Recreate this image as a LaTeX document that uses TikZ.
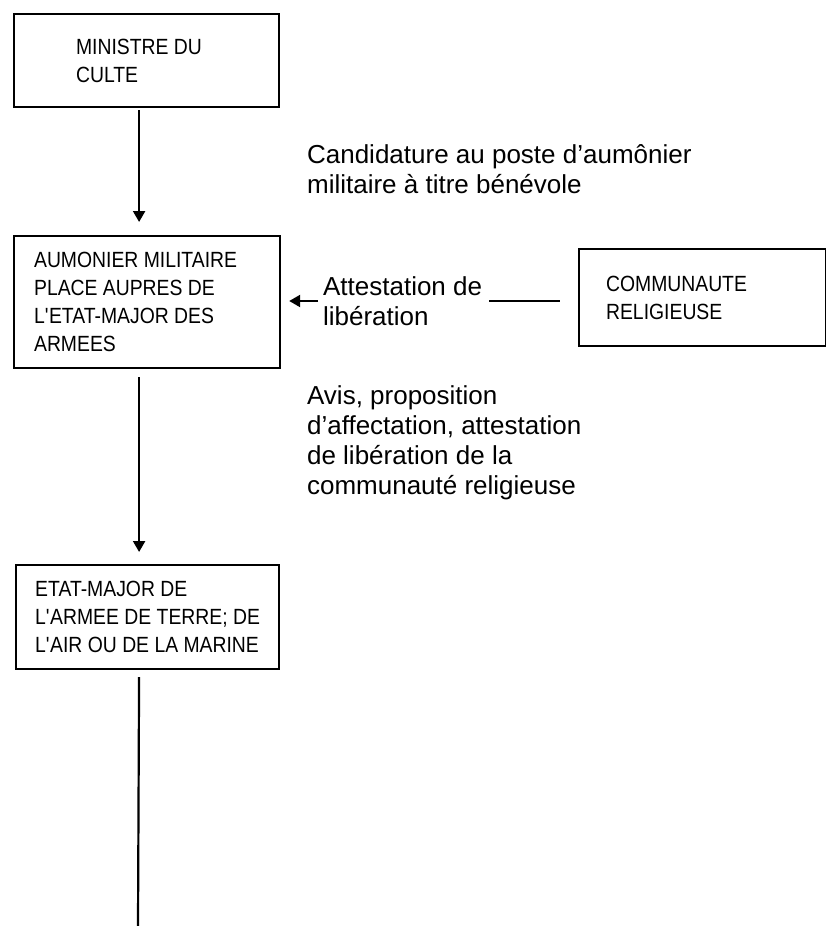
\documentclass[tikz,border=0pt]{standalone}
\usepackage{fontspec}
\setmainfont{Liberation Sans}
\newfontfamily\boitefont[FakeStretch=0.88]{Liberation Sans}
\usetikzlibrary{arrows.meta}

\begin{document}
\begin{tikzpicture}[x=1pt,y=-1pt,line width=2.2pt,>={Triangle[length=11pt,width=12pt]},
    boite/.style={draw,anchor=north west,align=flush left,inner sep=0pt,font=\boitefont\fontsize{22}{28}\selectfont},
    texte/.style={anchor=west,align=left,inner sep=0pt,font=\fontsize{26}{30}\selectfont}]
\useasboundingbox (0,0) rectangle (826,926);
                  \node[boite,minimum width=265pt,minimum height=93pt,text width=141pt] (M) at (13,13) {MINISTRE DU\\CULTE};
                  \node[boite,minimum width=266pt,minimum height=132pt,text width=226pt] (A) at (13,235)
                      {AUMONIER MILITAIRE\\PLACE AUPRES DE\\L\textquotesingle ETAT-MAJOR DES\\ARMEES};
                  \node[boite,minimum width=263pt,minimum height=104pt] (E) at (15,564)
                      {ETAT-MAJOR DE\\L\textquotesingle ARMEE DE TERRE; DE\\L\textquotesingle AIR OU DE LA MARINE};
                  \node[boite,minimum width=247pt,minimum height=97pt,text width=193pt] (C) at (578,248) {COMMUNAUTE\\RELIGIEUSE};
                  \node[texte] (cand) at (306,169) {Candidature au poste d’aumônier\\militaire à titre bénévole};
                  \node[texte] (attest) at (322,301) {Attestation de\\libération};
                  \node[texte] (avis) at (306,443) {Avis, proposition\\d’affectation, attestation\\de libération de la\\communauté religieuse};
                  \coordinate (fin) at (138,926);
                    \draw[->,shorten <=2pt,shorten >=13pt] ([xshift=-7.5pt]M.south) -- ([xshift=-7.5pt]M.south |- A.north);
                    \draw[->,shorten <=8pt,shorten >=12pt] ([xshift=-8pt]A.south) -- ([xshift=-8pt]A.south |- E.north);
                    \draw[shorten <=7pt] ([xshift=-8.5pt]E.south) -- (fin);
                    \draw[->,shorten <=4pt,shorten >=8pt] (attest.west) -- (attest.west -| A.east);
                    \draw[shorten <=6pt,shorten >=18pt] (attest.east) -- (attest.east -| C.west);
\end{tikzpicture}
\end{document}
